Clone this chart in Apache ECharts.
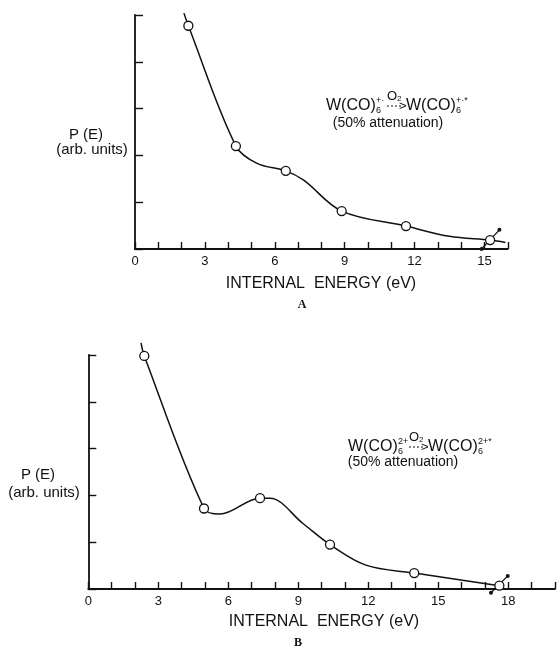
<!DOCTYPE html>
<html>
<head>
<meta charset="utf-8">
<script src="https://cdn.jsdelivr.net/npm/echarts@6/dist/echarts.min.js"></script>
<style>
  html, body { margin: 0; padding: 0; background: #fff; }
  #chart { width: 560px; height: 649px; }
</style>
</head>
<body>
<div id="chart"></div>
<script>
// data (x = internal energy eV, y = P(E) arb. units, 0..5 ticks)
var pointsA = [[2.29, 4.77], [4.33, 2.20], [6.47, 1.67], [8.87, 0.81], [11.63, 0.49], [15.24, 0.19]];
var curveA = [[2.10, 5.04], [2.29, 4.77], [4.33, 2.20], [5.24, 1.83], [6.47, 1.67], [7.24, 1.47],
  [8.87, 0.81], [11.63, 0.49], [13.5, 0.27], [15.24, 0.19], [15.9, 0.14]];
var errA = [[14.87, 0], [15.64, 0.41]];

var pointsB = [[2.40, 4.98], [4.96, 1.72], [7.36, 1.94], [10.36, 0.95], [13.97, 0.34], [17.62, 0.07]];
var curveB = [[2.26, 5.26], [2.40, 4.98], [4.96, 1.72], [5.64, 1.60], [7.36, 1.94], [7.79, 1.94],
  [9.2, 1.40], [10.36, 0.95], [11.9, 0.51], [13.97, 0.34], [17.62, 0.07]];
var errB = [[17.26, -0.08], [17.98, 0.28]];

var xTickLabels = [0, 3, 6, 9, 12, 15, 18];
var yTicks = [0, 1, 2, 3, 4, 5];

var ink = '#111';
var sans = 'Liberation Sans';

var chart = echarts.init(document.getElementById('chart'));

function xAxisFor(idx, max) {
  return {
    type: 'value', gridIndex: idx, min: 0, max: max, interval: 1,
    axisLine: { lineStyle: { color: ink, width: 1.8 } },
    axisTick: { inside: true, length: 7, lineStyle: { color: ink, width: 1.4 } },
    axisLabel: {
      color: ink, fontFamily: sans, fontSize: 13, margin: 6,
      formatter: function (v) { return xTickLabels.indexOf(v) >= 0 ? String(v) : ''; }
    },
    splitLine: { show: false }
  };
}
function yAxisFor(idx) {
  return {
    type: 'value', gridIndex: idx, min: yTicks[0], max: yTicks[yTicks.length - 1], interval: 1,
    axisLine: { lineStyle: { color: ink, width: 1.8 } },
    axisTick: { inside: true, length: 8, lineStyle: { color: ink, width: 1.4 } },
    axisLabel: { show: false },
    splitLine: { show: false }
  };
}

function curveSeries(idx, data) {
  return {
    type: 'line', xAxisIndex: idx, yAxisIndex: idx, data: data, smooth: 0.35,
    showSymbol: false, clip: false, silent: true,
    lineStyle: { color: ink, width: 1.5 }
  };
}
function pointSeries(idx, data) {
  return {
    type: 'scatter', xAxisIndex: idx, yAxisIndex: idx, data: data, symbol: 'circle', symbolSize: 9,
    itemStyle: { color: '#fff', borderColor: ink, borderWidth: 1.3, opacity: 1 }, z: 5
  };
}
function errSeries(idx, data) {
  return {
    type: 'line', xAxisIndex: idx, yAxisIndex: idx, data: data, clip: false,
    symbol: 'circle', symbolSize: 4, itemStyle: { color: ink },
    lineStyle: { color: ink, width: 1.2 }, z: 4
  };
}

function txt(x, y, s, size, extra) {
  var st = { text: s, font: (extra && extra.font) || (size + 'px "' + sans + '"'), fill: ink,
    textAlign: (extra && extra.align) || 'left', textVerticalAlign: 'middle',
    align: (extra && extra.align) || 'left', verticalAlign: 'middle' };
  return { type: 'text', x: x, y: y, style: st, z: 10 };
}

// reaction formula, built from pieces: W(CO)6 ... O2 ...> W(CO)6 ...
function formula(x0, y0, supL, supR) {
  return [
    txt(x0, y0, 'W(CO)', 16),
    txt(x0 + 50, y0 + 5, '6', 9),
    txt(x0 + 50, y0 - 5, supL, 9),
    txt(x0 + 61, y0 - 10, 'O', 13),
    txt(x0 + 71, y0 - 7, '2', 8),
    { type: 'line', shape: { x1: x0 + 61, y1: y0, x2: x0 + 75, y2: y0 },
      style: { stroke: ink, lineWidth: 1, lineDash: [2, 2] }, z: 10 },
    txt(x0 + 73, y0, '>', 13),
    txt(x0 + 80, y0, 'W(CO)', 16),
    txt(x0 + 130, y0 + 5, '6', 9),
    txt(x0 + 130, y0 - 5, supR, 9)
  ];
}

var graphics = [
  txt(86, 135, 'P (E)', 15, { align: 'center' }),
  txt(92, 150, '(arb. units)', 15, { align: 'center' }),
  txt(388, 123, '(50% attenuation)', 14, { align: 'center' }),
  txt(321, 284, 'INTERNAL  ENERGY (eV)', 16, { align: 'center' }),
  txt(302, 305, 'A', 12, { align: 'center', font: 'bold 12px "Liberation Serif"' }),

  txt(38, 475, 'P (E)', 15, { align: 'center' }),
  txt(44, 493, '(arb. units)', 15, { align: 'center' }),
  txt(403, 462, '(50% attenuation)', 14, { align: 'center' }),
  txt(324, 622, 'INTERNAL  ENERGY (eV)', 16, { align: 'center' }),
  txt(298, 643, 'B', 12, { align: 'center', font: 'bold 12px "Liberation Serif"' })
].concat(formula(326, 106, '+·', '+·*')).concat(formula(348, 447, '2+', '2+*'));

var option = {
  animation: false,
  backgroundColor: '#fff',
  grid: [
    { left: 135, top: 15, width: 372.8, height: 234 },
    { left: 88.3, top: 355, width: 466.6, height: 234 }
  ],
  xAxis: [xAxisFor(0, 16), xAxisFor(1, 20)],
  yAxis: [yAxisFor(0), yAxisFor(1)],
  series: [
    curveSeries(0, curveA), pointSeries(0, pointsA), errSeries(0, errA),
    curveSeries(1, curveB), pointSeries(1, pointsB), errSeries(1, errB)
  ],
  graphic: graphics
};

if (option && typeof option === 'object') {
  chart.setOption(option);
}
</script>
</body>
</html>
